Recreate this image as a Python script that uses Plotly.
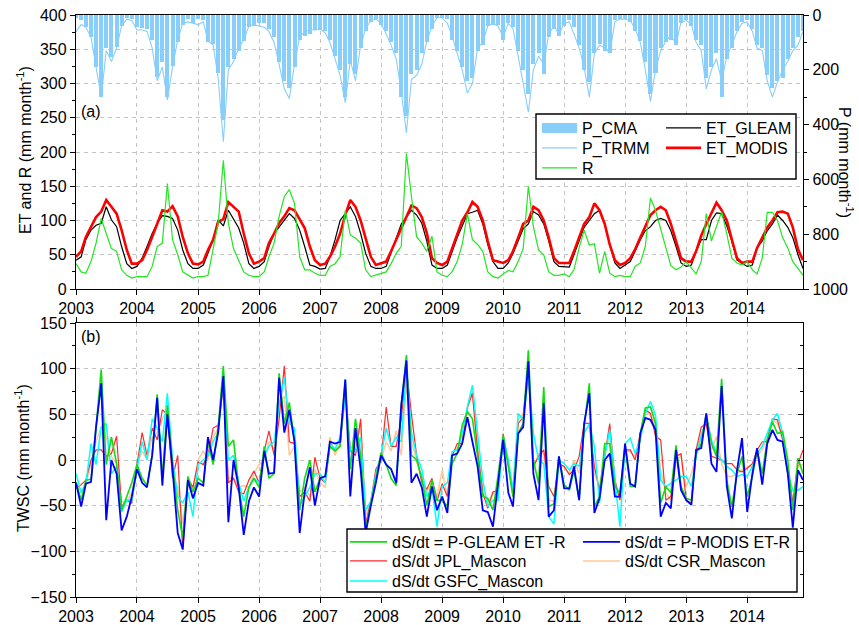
import pandas as pd
import plotly.graph_objects as go

# ---------------- data (monthly, Jan 2003 - Dec 2014) ----------------
months = pd.date_range("2003-01-01", periods=144, freq="MS")
years = list(range(2003, 2015))

p_cma = [10, 20, 45, 80, 190, 300, 120, 155, 115, 40, 12, 15,
         45, 48, 50, 90, 225, 170, 300, 185, 100, 35, 15, 30,
         15, 20, 100, 105, 210, 385, 190, 160, 130, 95, 45, 40,
         30, 30, 50, 80, 170, 240, 265, 190, 90, 75, 70, 55,
         55, 60, 90, 150, 200, 300, 180, 215, 120, 60, 25, 15,
         35, 60, 100, 140, 300, 370, 215, 200, 140, 100, 50, 10,
         10, 15, 90, 130, 190, 240, 230, 130, 110, 40, 35, 35,
         90, 30, 45, 130, 200, 290, 180, 140, 215, 80, 50, 75,
         40, 20, 45, 110, 200, 245, 140, 105, 130, 140, 20, 15,
         15, 25, 60, 95, 170, 290, 210, 120, 100, 90, 110, 30,
         20, 40, 90, 110, 230, 190, 140, 300, 160, 120, 60, 25,
         20, 50, 110, 120, 220, 265, 240, 230, 160, 120, 80, 60]

p_trmm = [61, 35, 45, 80, 190, 300, 130, 170, 120, 40, 15, 20,
          55, 55, 60, 120, 240, 190, 310, 190, 90, 30, 25, 30,
          35, 25, 95, 110, 230, 462, 200, 170, 120, 90, 40, 35,
          40, 45, 60, 100, 180, 270, 305, 180, 80, 60, 55, 55,
          50, 65, 100, 160, 220, 320, 165, 240, 110, 50, 20, 15,
          30, 70, 110, 160, 280, 430, 235, 220, 180, 95, 40, 10,
          10, 30, 75, 140, 200, 285, 250, 120, 100, 40, 30, 40,
          80, 30, 50, 150, 250, 355, 200, 150, 180, 70, 40, 70,
          30, 25, 70, 120, 190, 300, 140, 110, 120, 140, 25, 15,
          15, 20, 50, 100, 200, 315, 200, 130, 95, 75, 105, 25,
          20, 35, 100, 130, 270, 200, 160, 240, 150, 110, 60, 30,
          25, 60, 120, 130, 240, 300, 245, 200, 170, 130, 110, 60]

et_modis = [47, 55, 76, 91, 105, 113, 130, 120, 110, 86, 57, 37,
            37, 42, 57, 76, 96, 115, 113, 121, 106, 76, 52, 37,
            36, 40, 57, 72, 98, 102, 127, 120, 113, 81, 52, 37,
            40, 45, 67, 81, 96, 106, 118, 115, 101, 89, 62, 42,
            35, 37, 47, 62, 81, 108, 130, 120, 100, 72, 47, 35,
            37, 40, 55, 72, 90, 108, 122, 118, 105, 82, 45, 38,
            35, 40, 58, 78, 100, 112, 127, 120, 100, 70, 42, 40,
            38, 42, 55, 75, 95, 100, 120, 115, 100, 75, 45, 38,
            38, 38, 55, 75, 95, 105, 125, 115, 95, 65, 42, 35,
            38, 45, 58, 75, 92, 108, 115, 120, 115, 95, 70, 45,
            40, 40, 55, 78, 95, 110, 126, 115, 100, 72, 45, 38,
            40, 40, 60, 75, 90, 100, 112, 113, 110, 90, 58, 42]

et_gleam = [42, 47, 72, 86, 93, 96, 120, 101, 91, 62, 37, 30,
            33, 45, 62, 81, 96, 107, 106, 103, 86, 57, 37, 30,
            30, 35, 52, 72, 101, 92, 115, 101, 89, 67, 37, 30,
            33, 40, 62, 81, 91, 101, 110, 103, 86, 62, 35, 33,
            29, 30, 47, 72, 100, 110, 120, 106, 81, 52, 33, 30,
            30, 33, 52, 75, 95, 105, 115, 108, 96, 70, 35, 30,
            30, 35, 55, 75, 92, 110, 112, 115, 95, 65, 40, 30,
            30, 38, 52, 70, 88, 95, 113, 108, 95, 70, 40, 33,
            33, 32, 50, 70, 90, 100, 110, 115, 95, 65, 38, 30,
            35, 40, 55, 72, 85, 91, 100, 103, 100, 85, 62, 38,
            33, 35, 55, 72, 72, 100, 111, 110, 92, 70, 42, 38,
            33, 35, 60, 70, 85, 95, 108, 100, 90, 75, 50, 30]

runoff = [37, 25, 23, 40, 67, 103, 81, 59, 55, 28, 20, 16,
          18, 18, 18, 33, 62, 67, 154, 72, 50, 25, 20, 16,
          18, 18, 20, 57, 96, 188, 96, 59, 42, 25, 20, 18,
          18, 25, 47, 67, 106, 135, 145, 125, 47, 28, 28, 23,
          20, 20, 33, 37, 47, 115, 79, 74, 67, 28, 18, 20,
          23, 25, 37, 52, 62, 198, 135, 76, 67, 55, 77, 25,
          20, 18, 25, 40, 65, 110, 72, 65, 55, 25, 18, 16,
          22, 27, 25, 40, 59, 150, 91, 57, 50, 25, 20, 20,
          22, 18, 28, 60, 86, 64, 66, 23, 55, 23, 18, 20,
          18, 18, 33, 38, 62, 133, 115, 87, 58, 34, 28, 32,
          40, 30, 22, 40, 110, 70, 90, 113, 80, 45, 38, 35,
          40, 28, 22, 45, 112, 112, 100, 75, 60, 40, 30, 20]

ds_gleam = [-24, -44, -22, -21, 36, 99, -5, 25, -4, -55, -40, -25,
            -5, -20, -28, 5, 72, -20, 60, -5, -55, -85, -18, -35,
            -20, -25, 20, -5, 35, 103, 15, 22, -30, -62, -30, -20,
            -30, 15, -20, -15, 95, 40, 63, 20, -55, -20, 0, -35,
            -20, -18, 15, 10, 15, 88, -10, 45, 5, -75, -48, -20,
            8, -5, -20, -28, 60, 115, 5, 0, -20, -50, -22, -44,
            -44, -51, -4, 7, 38, 53, 45, 4, -40, -42, -55, -18,
            27, -7, -40, 29, 40, 120, 0, -26, 80, -51, -48, 4,
            -27, -33, -11, -44, 36, 84, -51, -40, 18, 18, -29, -36,
            15, -29, -29, 29, 57, 58, 40, -47, -29, -36, 16, -29,
            -42, -44, 7, 18, 51, 18, 4, 89, -22, -51, -15, 4,
            -40, -18, 11, -15, 22, 42, 29, 31, 0, -55, 2, -15]

ds_modis = [-25, -51, -26, -24, 36, 84, -66, 0, -15, -77, -62, -40,
            -10, -25, -30, 5, 68, -28, 50, -10, -80, -98, -22, -42,
            -25, -28, 25, 0, 30, 92, -68, 0, -30, -82, -45, -30,
            -40, 10, -15, -14, 90, 30, 55, 20, -80, -35, -8, -50,
            -20, -18, 20, 18, 20, 88, -40, 35, -10, -80, -50, -25,
            5, -5, -10, -25, 60, 109, -25, -15, -30, -62, -29, -55,
            -40, -58, 5, 7, 18, 47, 20, -7, -55, -57, -73, -26,
            22, -36, -51, 29, 36, 108, -15, -44, 62, -62, -55, 4,
            -31, -31, -7, -44, 40, 73, -58, -42, 0, 7, -40, -40,
            18, -26, -29, 29, 46, 44, 33, -62, -47, -53, 11, -33,
            -44, -49, 11, 13, 51, -4, -13, 81, -29, -64, -11, 24,
            -57, -15, 13, -27, 18, 33, 22, 20, -15, -74, -11, -22]

ds_jpl = [-31, -27, -22, 0, 11, 11, 4, 7, 26, -51, -44, -47,
          -5, 30, 5, 35, 22, 55, 50, -20, 5, -98, -20, -30,
          -2, -5, 5, 35, 38, 80, -25, -20, -35, -37, -22, -12,
          -25, 10, 32, 5, 45, 103, 20, 18, -40, -35, -45, 3,
          -20, -25, 15, 10, 15, 75, 10, 5, 45, -70, -45, -10,
          0, 58, 15, 15, 45, 100, 50, 5, -25, -32, -20, -45,
          -26, -40, 4, 18, 18, 58, 73, 10, -36, -53, -35, -33,
          29, -7, -36, 40, 47, 102, -7, 4, 11, -29, -40, -4,
          -7, -16, -11, 4, 40, 40, -7, -33, 7, 40, -22, -44,
          11, 11, 0, 29, 55, 51, 26, 22, -44, -40, 4, 7,
          -44, -47, 11, 36, 40, 4, 2, 0, -4, -4, -11, -13,
          -9, -4, 11, 20, 20, 45, 44, 22, -15, -47, -4, 11]

ds_csr = [-31, -33, -27, -4, 20, 36, 25, 4, -4, -46, -46, -36,
          -5, 10, 0, 25, 30, 45, 55, -15, -30, -70, -25, -35,
          0, 10, 0, 25, 35, 85, -20, -20, -30, -28, -30, -15,
          -5, 0, 20, 10, 60, 70, 5, 15, -35, -30, -40, -10,
          -25, -30, 25, 5, 20, 70, 15, 10, 40, -60, -45, -15,
          0, 20, 10, 32, 5, 85, 20, 0, -20, -35, -25, -40,
          -11, -40, 7, 13, 22, 55, 75, 15, -30, -47, -36, -33,
          22, -4, -40, 44, 51, 98, -11, 7, 7, -44, -45, -7,
          -7, -15, 0, -15, 33, 36, -15, -29, 4, 33, -22, -44,
          11, 9, 4, 29, 53, 49, 36, -11, -36, -44, 0, 4,
          -29, -15, 7, 29, 40, 11, 26, -4, -18, -18, -15, -11,
          -7, -7, 4, 11, 26, 44, 40, 26, -11, -44, -7, -5]

ds_gsfc = [-15, -36, -26, 18, -5, 36, 40, -15, -7, -57, -44, -44,
           -10, 20, 0, 45, 35, 20, 73, 0, -40, -47, -35, -62,
           -5, 0, 5, 20, 30, 90, 0, 5, -25, -45, -30, -20,
           -25, 5, 15, 20, 60, 90, 40, 35, -50, -40, -30, -15,
           -15, -25, 18, 12, 25, 70, 10, 10, 25, -55, -45, -15,
           5, 35, 15, 25, 20, 100, 30, 5, -10, -40, -30, -73,
           -29, -25, 9, 11, 29, 58, 82, 29, -22, -51, -44, -44,
           26, 0, -33, 51, 44, 91, 29, 0, -4, -62, -70, 0,
           -4, -11, -4, -7, 29, 40, 15, -47, 4, 33, -18, -73,
           18, 24, 7, 22, 51, 64, 49, -22, -29, -26, -22, -18,
           -18, -29, 4, 26, 47, 22, 7, 0, -7, -11, -18, -16,
           -18, -7, 7, 15, 29, 44, 51, 29, -15, -33, -33, -29]

# ---------------- figure ----------------
FONT = "Arial, Liberation Sans, sans-serif"
GRID = "#c4c4c4"
SKY = "#87cefa"
W, H = 859, 625
PL, PR, PT, PB = 76, 803, 15, 597          # plot-area pixel box
PW, PH = PR - PL, PB - PT


def px(xp):
    return (xp - PL) / PW


def py(yp):
    return (PB - yp) / PH


fig = go.Figure()

# top panel (ET / R on left axis)
fig.add_trace(go.Scatter(x=months, y=et_gleam, name="ET_GLEAM", mode="lines",
                         line=dict(color="black", width=1.2), legend="legend4",
                         xaxis="x", yaxis="y"))
fig.add_trace(go.Scatter(x=months, y=et_modis, name="ET_MODIS", mode="lines",
                         line=dict(color="#ff0000", width=2.6), legend="legend5",
                         xaxis="x", yaxis="y"))
fig.add_trace(go.Scatter(x=months, y=runoff, name="R", mode="lines",
                         line=dict(color="#22e622", width=1.2), legend="legend3",
                         xaxis="x", yaxis="y"))
# precipitation (reversed right axis)
fig.add_trace(go.Bar(x=months, y=p_cma, name="P_CMA", legendgroup="pcma", showlegend=False,
                     marker=dict(color=SKY, line=dict(width=0)),
                     width=24 * 86400000, xaxis="x", yaxis="y2"))
# wide legend swatch for the P_CMA bars (no data of its own)
fig.add_trace(go.Scatter(x=[None], y=[None], name="P_CMA", legendgroup="pcma", mode="lines",
                         line=dict(color=SKY, width=14), legend="legend",
                         hoverinfo="skip", xaxis="x", yaxis="y2"))
fig.add_trace(go.Scatter(x=months, y=p_trmm, name="P_TRMM", mode="lines",
                         line=dict(color=SKY, width=1.1), legend="legend2",
                         xaxis="x", yaxis="y2"))

# bottom panel
fig.add_trace(go.Scatter(x=months, y=ds_csr, name="dS/dt CSR_Mascon", mode="lines",
                         line=dict(color="#ffc896", width=1.5), legend="legend10",
                         xaxis="x2", yaxis="y3"))
fig.add_trace(go.Scatter(x=months, y=ds_jpl, name="dS/dt JPL_Mascon", mode="lines",
                         line=dict(color="#ff2a2a", width=1.2), legend="legend7",
                         xaxis="x2", yaxis="y3"))
fig.add_trace(go.Scatter(x=months, y=ds_gsfc, name="dS/dt GSFC_Mascon", mode="lines",
                         line=dict(color="#00ffff", width=1.5), legend="legend8",
                         xaxis="x2", yaxis="y3"))
fig.add_trace(go.Scatter(x=months, y=ds_gleam, name="dS/dt = P-GLEAM ET -R", mode="lines",
                         line=dict(color="#11dd11", width=1.6), legend="legend6",
                         xaxis="x2", yaxis="y3"))
fig.add_trace(go.Scatter(x=months, y=ds_modis, name="dS/dt = P-MODIS ET-R", mode="lines",
                         line=dict(color="#0000ff", width=1.8), legend="legend9",
                         xaxis="x2", yaxis="y3"))
# helper so the inward right-hand ticks of the bottom panel are drawn
fig.add_trace(go.Scatter(x=[months[0]], y=[None], showlegend=False, hoverinfo="skip",
                         xaxis="x2", yaxis="y4"))

x_range = [months[0], months[-1]]
tickvals = [pd.Timestamp(f"{y}-01-01") for y in years]
ticktext = [str(y) for y in years]

common_x = dict(type="date", range=x_range, tickvals=tickvals, ticktext=ticktext,
                showline=True, linecolor="black", linewidth=1.4,
                ticks="outside", ticklen=5, tickwidth=1.2, tickcolor="black",
                showgrid=True, gridcolor=GRID, griddash="4px,4px", gridwidth=1,
                zeroline=False, tickfont=dict(size=16, color="black"))

top_dom = [py(289), 1.0]
bot_dom = [0.0, py(323)]

# one legend per entry, positioned like the two-column boxed legends of the reference
legend_pos = {
    "legend": (537, 128), "legend2": (537, 148), "legend3": (537, 168),
    "legend4": (661, 128), "legend5": (661, 148),
    "legend6": (345, 542), "legend7": (345, 561), "legend8": (345, 581),
    "legend9": (578, 542), "legend10": (578, 561),
}
legends = {}
for key, (lx, ly) in legend_pos.items():
    top = key in ("legend", "legend2", "legend3", "legend4", "legend5")
    legends[key] = dict(x=px(lx), y=py(ly), xanchor="left", yanchor="middle",
                        bgcolor="rgba(0,0,0,0)", borderwidth=0,
                        font=dict(size=16, color="black", family=FONT),
                        itemwidth=35 if top else 37)

fig.update_layout(
    width=W, height=H,
    margin=dict(l=PL, r=W - PR, t=PT, b=H - PB, autoexpand=False),
    paper_bgcolor="white", plot_bgcolor="white",
    font=dict(family=FONT, size=16, color="black"),
    bargap=0,
    xaxis=dict(common_x, anchor="y", domain=[0, 1], mirror=True),
    yaxis=dict(domain=top_dom, range=[0, 400], dtick=50, anchor="x",
               showline=True, linecolor="black", linewidth=1.4,
               ticks="outside", ticklen=5, tickwidth=1.2, tickcolor="black",
               minor=dict(dtick=25, ticks="outside", ticklen=3, tickcolor="black", showgrid=False),
               showgrid=True, gridcolor=GRID, griddash="4px,4px", zeroline=False,
               tickfont=dict(size=16, color="black")),
    yaxis2=dict(overlaying="y", side="right", anchor="x", range=[1000, 0], dtick=200,
                showline=True, linecolor="black", linewidth=1.4,
                ticks="outside", ticklen=5, tickwidth=1.2, tickcolor="black",
                minor=dict(dtick=100, ticks="outside", ticklen=3, tickcolor="black", showgrid=False),
                showgrid=False, zeroline=False, tickfont=dict(size=16, color="black")),
    xaxis2=dict(common_x, anchor="y3", domain=[0, 1], mirror="ticks"),
    yaxis3=dict(domain=bot_dom, range=[-150, 150], dtick=50, anchor="x2",
                showline=True, linecolor="black", linewidth=1.4, mirror=True,
                ticks="outside", ticklen=5, tickwidth=1.2, tickcolor="black",
                minor=dict(dtick=25, ticks="outside", ticklen=3, tickcolor="black", showgrid=False),
                showgrid=True, gridcolor=GRID, griddash="4px,4px", zeroline=False,
                tickfont=dict(size=16, color="black")),
    yaxis4=dict(overlaying="y3", side="right", anchor="x2", range=[-150, 150], dtick=50,
                showline=False, showticklabels=False, showgrid=False, zeroline=False,
                ticks="inside", ticklen=5, tickwidth=1.2, tickcolor="black",
                minor=dict(dtick=25, ticks="inside", ticklen=3, tickcolor="black", showgrid=False)),
    showlegend=True,
    **legends,
)

# legend frames (white boxes with black borders)
for (x0, y0, x1, y1) in [(536, 114, 796, 179), (347, 529, 797, 592)]:
    fig.add_shape(type="rect", xref="paper", yref="paper",
                  x0=px(x0), x1=px(x1), y0=py(y1), y1=py(y0),
                  line=dict(color="black", width=1.4), fillcolor="white", layer="above")

annos = [
    dict(text="(a)", x=px(79), y=py(112), xanchor="left", yanchor="middle"),
    dict(text="(b)", x=px(79), y=py(336), xanchor="left", yanchor="middle"),
    dict(text="ET and R (mm month<sup>-1</sup>)", x=px(24), y=py(150),
         textangle=-90, xanchor="center", yanchor="middle"),
    dict(text="P (mm month<sup>-1</sup>)", x=px(846), y=py(162),
         textangle=90, xanchor="center", yanchor="middle"),
    dict(text="TWSC (mm month<sup>-1</sup>)", x=px(22), y=py(458),
         textangle=-90, xanchor="center", yanchor="middle"),
]
for a in annos:
    fig.add_annotation(xref="paper", yref="paper", showarrow=False,
                       font=dict(size=16, color="black", family=FONT), **a)

fig.write_html("out.html")
